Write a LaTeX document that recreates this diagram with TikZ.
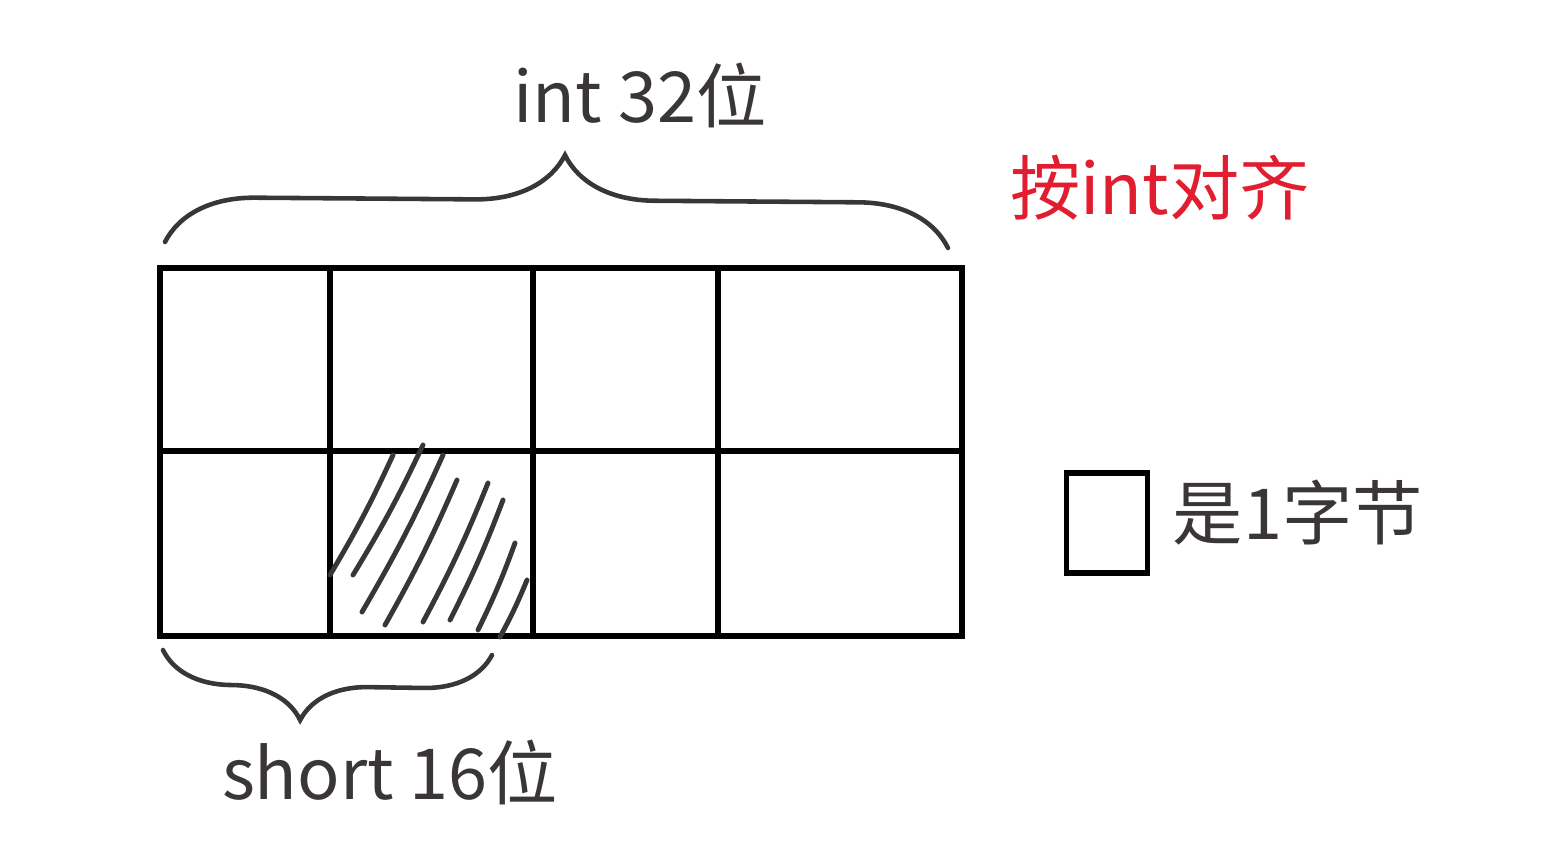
\documentclass[tikz,border=0pt]{standalone}
\usepackage{fontspec}
\newfontfamily\cjk{Noto Sans CJK SC}
\usetikzlibrary{decorations.pathreplacing,positioning}
\definecolor{ink}{HTML}{3A3636}
\definecolor{redink}{HTML}{E01E30}
\tikzset{
  hand/.style={font=\cjk\fontsize{40}{48}\selectfont, text=ink, inner sep=0pt},
  gridline/.style={line width=3pt, black},
  bracestroke/.style={draw=ink, line width=2.6pt, line cap=round, decorate},
  hatch/.style={draw=ink, line width=2.8pt, line cap=round}
}

\begin{document}
\begin{tikzpicture}[x=0.02cm,y=-0.02cm]
  \useasboundingbox (0,0) rectangle (1551,857);

  % the eight bytes
  \coordinate (tl) at (160,268);
  \coordinate (br) at (962,636);
  \draw[gridline] (tl) rectangle (br);
  \draw[gridline] (160,451) -- (962,451);
  \foreach \x in {330,533,718}
    \draw[gridline] (\x,268) -- (\x,636);

  % hatched byte
  \foreach \a/\b/\c/\d in {330/575/393/455, 353/575/423/445, 362/612/443/455,
      385/625/457/480, 423/622/488/483, 450/620/503/500, 478/630/515/543, 500/637/527/580}
    \draw[hatch] (\a,\b) to[bend right=3] (\c,\d);

  % braces
  \coordinate (intl) at (165,242);
  \coordinate (intr) at (948,248);
  \coordinate (shl) at (163,650);
  \coordinate (shr) at (492,655);
  \draw[bracestroke, decoration={brace, amplitude=1.8cm, aspect=0.51}] (intl) -- (intr);
  \draw[bracestroke, decoration={brace, mirror, amplitude=1.36cm, aspect=0.42}] (shl) -- (shr);

  % labels
  \node[hand] (bits32) at (640,95) {int 32位};
  \node[hand, text=redink] (alignnote) at (1160,188) {按int对齐};
  \node[hand] (bits16) at (390,772) {short 16位};

  % legend
  \node[draw, line width=3pt, minimum width=1.62cm, minimum height=2cm, inner sep=0pt] (bytebox) at (1107,523) {};
  \node[hand, right=0.45cm of bytebox, yshift=0.2cm] (bytetxt) {是1字节};
\end{tikzpicture}
\end{document}
